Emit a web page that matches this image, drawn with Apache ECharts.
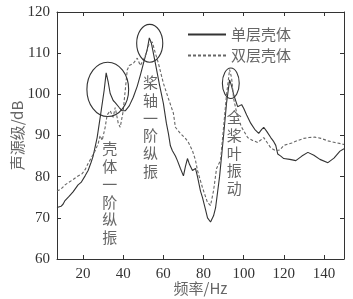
<!DOCTYPE html>
<html>
<head>
<meta charset="utf-8">
<script src="https://cdn.jsdelivr.net/npm/echarts@6/dist/echarts.min.js"></script>
<style>
html,body{margin:0;padding:0;background:#fff;}
#chart{width:353px;height:299px;}
</style>
</head>
<body>
<div id="chart"></div>
<script>
// ---- data ----
var seriesNames = ['单层壳体', '双层壳体'];
var freqSolid = [7,9,10,11,13,15,17.5,19,21,22.5,24,25,27,29,30.5,31.5,32.5,33.5,35,36,38,39.5,41,43,45,47,48.5,50.5,52,53,54,56,58,60,61.5,62.5,63.5,64.5,66,67,68.5,70,71,72,73,74.5,76,77,78.5,79.5,81,82,83.5,85,86,88,90,91.5,93,94,95,97,99,100,101.5,103.5,105.5,107.5,109,110,111.5,113.5,115,116,117,118.5,120,123,126,129,132,135,138,142,145,148,150];
var valSolid  = [72.5,72.8,73.3,74.2,75.2,76.3,78,78.6,80.2,81.5,83.5,85,89.5,96,101,105.2,103,100.2,98.5,98,96.8,96,96,97.2,99.3,102,104.6,108.3,111,113.7,112.5,107.6,102.5,97.8,93,90.5,87.5,86.3,85,83.9,82,80.2,82.5,84.4,83,81.5,82,80,76.5,74.9,72,70,69,70.5,72.4,80,90,98,103.5,102,100,97,97.5,96.6,95,93,91.5,90.5,91.5,92,91,89.5,88.5,87.6,85.5,85,84.4,84.2,83.9,85,85.9,85.2,84.2,83.4,84.5,86.2,86.8];
var freqDashed = [7,9,11,12.5,15,17,19.5,21,22.5,24,26,27.5,28.5,29.5,31,32,33.5,35,36,37.5,38.5,40,41,42,43,45,47,48.5,50,51.5,53,54.5,56,57.5,60,62.5,65,66,68.5,71,72.5,74.5,76,77,79.5,82,83.5,85,86.5,88.5,90,91.5,93,94,95,97,99,102,104.5,107,110,113.5,116,118,120,124,127,130,132.5,135.5,138.5,142,145.5,148.5,150];
var valDashed  = [76.5,77,78,78.5,79.3,80,80.7,81.7,83.2,84.5,86.3,88,90,88.8,92,95,96,94.4,96.8,93,92,96,101,105.9,107,107.5,108.8,107,108.3,110,112.5,112.7,110,107.6,102.7,99,95.4,92,90.5,89.3,88.3,86.3,84,81.5,77.3,73.7,73,76.6,82,84,92,100,106,104,99,94.4,92,89.5,88.8,88.3,89.5,87,86.3,86.5,87.6,88.2,88.8,89.3,89.5,89.6,89.3,88.7,88.3,88,87.8];
var xTicks = [20,40,60,80,100,120,140];
// annotations (data coordinates)
var ellipseCenters = [[32.3,101.2],[53.2,112.4],[93.6,102.7]];
var ellipseRadii = [[10.4,6.6],[6.5,4.6],[4.2,3.7]];
var noteTexts = ['壳体一阶纵振','桨轴一阶纵振','全桨叶振动'];
var noteAnchors = [[33.3,86.8],[53.6,102.9],[95.3,94.4]];

function zip(a,b){var r=[];for(var i=0;i<a.length;i++)r.push([a[i],b[i]]);return r;}

var chart = echarts.init(document.getElementById('chart'), null, {renderer:'canvas'});
var numFont = "'Liberation Serif','Times New Roman',serif";
var cjkFont = "'Noto Sans CJK SC','Liberation Serif',serif";
var axisCol = '#333';
var textCol = '#666';

var option = {
  animation:false,
  backgroundColor:'#fff',
  grid:{left:57,right:9,top:12,bottom:40,containLabel:false,outerBoundsMode:'none'},
  legend:{
    orient:'vertical', left:182, top:22, itemWidth:38, itemHeight:14, itemGap:6,
    data:seriesNames,
    itemStyle:{opacity:0},
    textStyle:{fontFamily:cjkFont,fontSize:15,color:textCol}
  },
  xAxis:[{
    type:'value', min:7, max:150, position:'bottom',
    name:'频率/Hz', nameLocation:'middle', nameGap:29, nameMoveOverlap:false,
    nameTextStyle:{fontFamily:cjkFont,fontSize:15,color:textCol,verticalAlign:'middle'},
    axisLine:{show:true,onZero:false,lineStyle:{color:axisCol,width:1}},
    axisTick:{show:true,inside:true,length:4,customValues:xTicks,lineStyle:{color:axisCol}},
    axisLabel:{show:true,customValues:xTicks,margin:8,fontFamily:numFont,fontSize:15,color:'#333'},
    splitLine:{show:false}
  },{
    type:'value', min:7, max:150, position:'top',
    axisLine:{show:true,onZero:false,lineStyle:{color:axisCol,width:1}},
    axisTick:{show:true,inside:true,length:4,customValues:xTicks,lineStyle:{color:axisCol}},
    axisLabel:{show:false},
    splitLine:{show:false}
  }],
  yAxis:[{
    type:'value', min:60, max:120, interval:10, position:'left',
    name:'声源级/dB', nameLocation:'middle', nameGap:40, nameRotate:90, nameMoveOverlap:false,
    nameTextStyle:{fontFamily:cjkFont,fontSize:15,color:textCol,verticalAlign:'middle'},
    axisLine:{show:true,onZero:false,lineStyle:{color:axisCol,width:1}},
    axisTick:{show:true,inside:true,length:4,lineStyle:{color:axisCol}},
    axisLabel:{show:true,margin:7,fontFamily:numFont,fontSize:15,color:'#333'},
    splitLine:{show:false}
  },{
    type:'value', min:60, max:120, interval:10, position:'right',
    axisLine:{show:true,onZero:false,lineStyle:{color:axisCol,width:1}},
    axisTick:{show:true,inside:true,length:4,lineStyle:{color:axisCol}},
    axisLabel:{show:false},
    splitLine:{show:false}
  }],
  series:[{
    name:seriesNames[0], type:'line', data:zip(freqSolid,valSolid),
    showSymbol:false, symbol:'none', smooth:false,
    lineStyle:{color:'#333',width:1.1,type:'solid'},
    itemStyle:{color:'#333'}
  },{
    name:seriesNames[1], type:'line', data:zip(freqDashed,valDashed),
    showSymbol:false, symbol:'none', smooth:false,
    lineStyle:{color:'#666',width:1.1,type:[3,2]},
    itemStyle:{color:'#666'}
  }]
};
chart.setOption(option);

function drawNotes(){
  var els = [];
  for (var i=0;i<ellipseCenters.length;i++){
    var c = chart.convertToPixel({gridIndex:0}, ellipseCenters[i]);
    var e = chart.convertToPixel({gridIndex:0}, [ellipseCenters[i][0]+ellipseRadii[i][0], ellipseCenters[i][1]+ellipseRadii[i][1]]);
    els.push({type:'ellipse', shape:{cx:c[0],cy:c[1],rx:Math.abs(e[0]-c[0]),ry:Math.abs(c[1]-e[1])},
      style:{fill:null,stroke:'#333',lineWidth:1.1}, z:100});
  }
  for (var j=0;j<noteTexts.length;j++){
    var p = chart.convertToPixel({gridIndex:0}, noteAnchors[j]);
    els.push({type:'text', x:p[0], y:p[1]-9,
      style:{text:noteTexts[j].split('').join('\n'), fontFamily:cjkFont, fontSize:15, lineHeight:17.8,
        fill:textCol, align:'center', verticalAlign:'top'}, z:90});
  }
  chart.setOption({graphic:{elements:els}});
}
drawNotes();
</script>
</body>
</html>
